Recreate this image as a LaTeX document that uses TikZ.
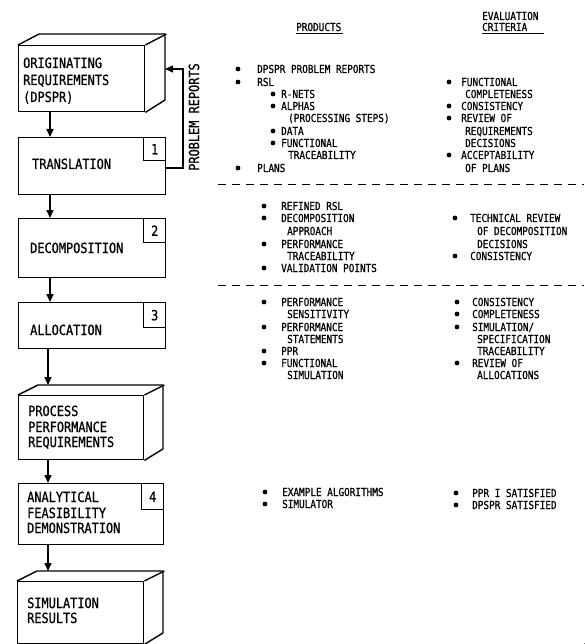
\documentclass[tikz,border=0pt]{standalone}
\usepackage{fontspec}
\newfontfamily\tw[FakeStretch=0.85,FakeBold=0.8]{DejaVu Sans Mono}
\newfontfamily\dvs{DejaVu Sans}
\usetikzlibrary{arrows.meta}
\tikzset{
  box/.style={draw, line width=1.4pt, rectangle, inner sep=0pt, anchor=north west},
  numbox/.style={draw, line width=1.4pt, rectangle, inner sep=0pt, anchor=north east,
    minimum width=22pt, font=\tw\fontsize{14}{16}\selectfont},
  bigt/.style={inner sep=0pt, anchor=base west, font=\tw\fontsize{14}{16}\selectfont},
  smt/.style={inner sep=0pt, anchor=base west, font=\tw\fontsize{11}{12}\selectfont},
  arr/.style={line width=1.5pt, -{Triangle[length=8pt,width=7pt]}},
  edge3d/.style={line width=1.4pt, line join=round},
  dashline/.style={line width=1pt, dash pattern=on 8pt off 6pt},
}
\newcommand\BT[4]{\node[bigt] (#1) at (#2,#3+5) {#4};}
\newcommand\ST[4]{\node[smt] (#1) at (#2,#3+4) {#4};}
\newcommand\BU[2]{\fill (#1,#2) circle[radius=2.4pt];}
\begin{document}
\begin{tikzpicture}[x=1pt,y=-1pt]
\useasboundingbox (0,0) rectangle (584,644);
\fill[white] (0,0) rectangle (584,644);

% ---------- boxes ----------
\node[box, minimum width=126pt, minimum height=66pt] (b1) at (18,45) {};
\draw[edge3d] (b1.north west) -- ++(21,-11) coordinate (b1bk) -- ++(126,0) coordinate (b1r) -- ++(0,66) -- (b1.south east);
\draw[edge3d] (b1.north east) -- ++(21,-11);

\node[box, minimum width=147pt, minimum height=57pt] (b2) at (18,137) {};
\node[numbox, minimum height=23pt] (n1) at (b2.north east) {1};

\node[box, minimum width=147pt, minimum height=59pt] (b3) at (18,218) {};
\node[numbox, minimum height=24pt] (n2) at (b3.north east) {2};

\node[box, minimum width=147pt, minimum height=46pt] (b4) at (18,302) {};
\node[numbox, minimum height=25pt] (n3) at (b4.north east) {3};

\node[box, minimum width=125pt, minimum height=64pt] (b5) at (18,395) {};
\draw[edge3d] (b5.north west) -- ++(20,-10) coordinate (b5bk) -- ++(125,0) -- ++(0,64) -- (b5.south east);
\draw[edge3d] (b5.north east) -- ++(20,-10);

\node[box, minimum width=145pt, minimum height=61pt] (b6) at (18,483) {};
\node[numbox, minimum height=26pt] (n4) at (b6.north east) {4};

\node[box, minimum width=126pt, minimum height=62pt] (b7) at (17,581) {};
\draw[edge3d] (b7.north west) -- ++(20,-10) coordinate (b7bk) -- ++(126,0) -- ++(0,62) -- (b7.south east);
\draw[edge3d] (b7.north east) -- ++(20,-10);

% ---------- box texts ----------
\BT{t1a}{23}{63}{ORIGINATING}
\BT{t1b}{23}{80}{REQUIREMENTS}
\BT{t1c}{23}{97}{(DPSPR)}
\BT{t2}{32}{164}{TRANSLATION}
\BT{t3}{30}{248}{DECOMPOSITION}
\BT{t4}{30}{330}{ALLOCATION}
\BT{t5a}{28}{411}{PROCESS}
\BT{t5b}{28}{427}{PERFORMANCE}
\BT{t5c}{28}{442}{REQUIREMENTS}
\BT{t6a}{27}{497}{ANALYTICAL}
\BT{t6b}{27}{513}{FEASIBILITY}
\BT{t6c}{27}{528}{DEMONSTRATION}
\BT{t7a}{27}{603}{SIMULATION}
\BT{t7b}{27}{618}{RESULTS}

% ---------- flow arrows ----------
\coordinate (ax) at (50,0);
\coordinate (ay) at (48,0);
\draw[arr] (b1.south -| ax) -- (b2.north -| ax);
\draw[arr] (b2.south -| ax) -- (b3.north -| ax);
\draw[arr] (b3.south -| ax) -- (b4.north -| ax);
\draw[arr] (b4.south -| ay) -- (b5bk -| ay);
\draw[arr] (b5.south -| ay) -- (b6.north -| ay);
\draw[arr] (b6.south -| ay) -- (b7bk -| ay);

% ---------- problem reports feedback ----------
\coordinate (fb1) at (183,168);
\coordinate (fb2) at (183,69);
\draw[arr, line join=miter] (b2.east |- fb1) -- (fb1) -- (fb2) -- (b1r |- fb2);
\node[inner sep=0pt, rotate=90, font=\tw\fontsize{14}{16}\selectfont] (pr) at (194,117) {PROBLEM REPORTS};

% ---------- headers ----------
\ST{hp}{296}{27}{PRODUCTS}
\draw[line width=0.9pt] (hp.south west) ++(0,2.5) -- ++(47,0);
\ST{he1}{482}{16}{EVALUATION}
\ST{he2}{482}{27}{CRITERIA}
\draw[line width=0.9pt] (he2.south west) ++(0,2.5) -- ++(62,0);

% ---------- section 1 ----------
\BU{238}{69} \ST{p1}{257}{69}{DPSPR PROBLEM REPORTS}
\BU{238}{82} \ST{p2}{257}{82}{RSL}
\BU{273}{94} \ST{p3}{281}{94}{R-NETS}
\BU{273}{106} \ST{p4}{281}{106}{ALPHAS}
\ST{p5}{288}{118}{(PROCESSING STEPS)}
\BU{273}{131} \ST{p6}{281}{131}{DATA}
\BU{273}{143} \ST{p7}{281}{143}{FUNCTIONAL}
\ST{p8}{288}{155}{TRACEABILITY}
\BU{238}{168} \ST{p9}{257}{168}{PLANS}

\BU{449}{82} \ST{e1}{461}{82}{FUNCTIONAL}
\ST{e2}{465}{94}{COMPLETENESS}
\BU{449}{106} \ST{e3}{461}{106}{CONSISTENCY}
\BU{449}{118} \ST{e4}{461}{118}{REVIEW OF}
\ST{e5}{465}{131}{REQUIREMENTS}
\ST{e6}{465}{143}{DECISIONS}
\BU{449}{155} \ST{e7}{461}{155}{ACCEPTABILITY}
\ST{e8}{465}{168}{OF PLANS}

\draw[dashline] (218,185) -- (584,185);

% ---------- section 2 ----------
\BU{264}{206} \ST{q1}{281}{206}{REFINED RSL}
\BU{264}{218} \ST{q2}{281}{218}{DECOMPOSITION}
\ST{q3}{287}{231}{APPROACH}
\BU{264}{244} \ST{q4}{281}{244}{PERFORMANCE}
\ST{q5}{287}{256}{TRACEABILITY}
\BU{264}{268} \ST{q6}{281}{268}{VALIDATION POINTS}

\BU{455}{218} \ST{f1}{470}{218}{TECHNICAL REVIEW}
\ST{f2}{477}{231}{OF DECOMPOSITION}
\ST{f3}{477}{244}{DECISIONS}
\BU{455}{256} \ST{f4}{470}{256}{CONSISTENCY}

\draw[dashline] (218,285) -- (584,285);

% ---------- section 3 ----------
\BU{264}{302} \ST{r1}{281}{302}{PERFORMANCE}
\ST{r2}{287}{314}{SENSITIVITY}
\BU{264}{327} \ST{r3}{281}{327}{PERFORMANCE}
\ST{r4}{287}{339}{STATEMENTS}
\BU{264}{351} \ST{r5}{281}{351}{PPR}
\BU{264}{363} \ST{r6}{281}{363}{FUNCTIONAL}
\ST{r7}{287}{375}{SIMULATION}

\BU{457}{302} \ST{g1}{472}{302}{CONSISTENCY}
\BU{457}{314} \ST{g2}{472}{314}{COMPLETENESS}
\BU{457}{327} \ST{g3}{472}{327}{SIMULATION/}
\ST{g4}{477}{339}{SPECIFICATION}
\ST{g5}{477}{351}{TRACEABILITY}
\BU{457}{363} \ST{g6}{472}{363}{REVIEW OF}
\ST{g7}{477}{375}{ALLOCATIONS}

% ---------- section 4 ----------
\BU{265}{492} \ST{s1}{282}{492}{EXAMPLE ALGORITHMS}
\BU{265}{504} \ST{s2}{282}{504}{SIMULATOR}
\BU{456}{493} \ST{h1}{472}{493}{PPR I SATISFIED}
\BU{456}{505} \ST{h2}{472}{505}{DPSPR SATISFIED}

% ---------- copyright (cut by page edge, as in the reference) ----------
\node[inner sep=0pt, font=\dvs\fontsize{22}{22}\selectfont] (cp) at (591,649) {©};
\end{tikzpicture}
\end{document}
